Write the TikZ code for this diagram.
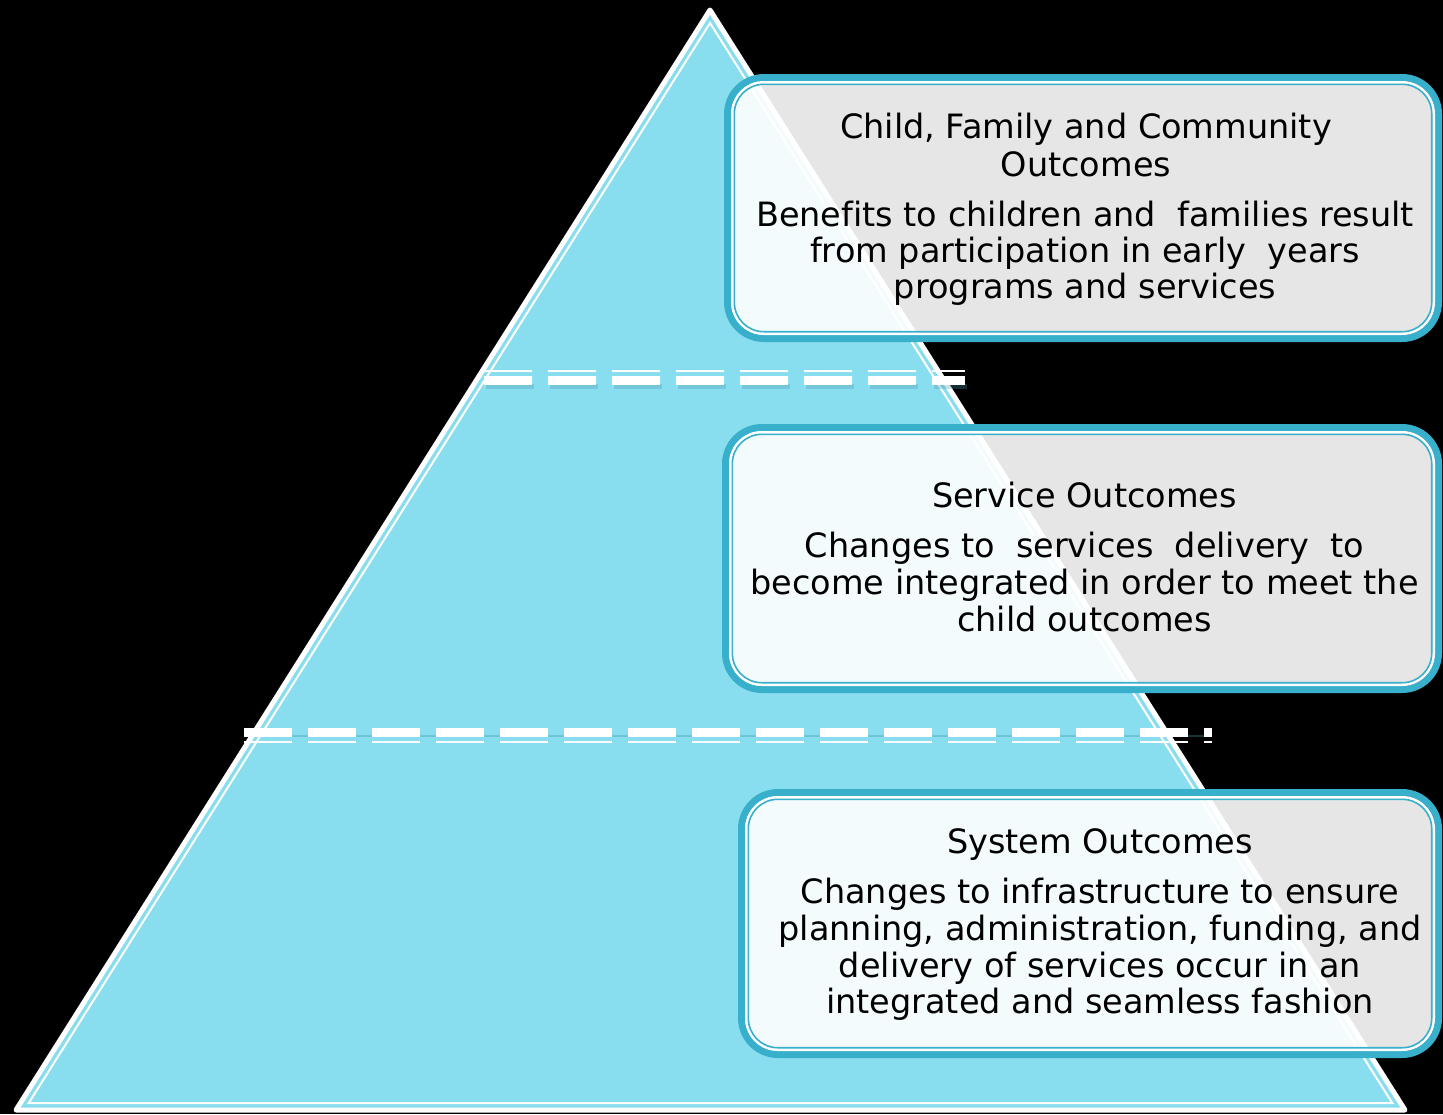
\documentclass[tikz,border=0pt]{standalone}
\usepackage{fontspec}
\setmainfont{DejaVu Sans}[Ligatures={NoCommon}]
\definecolor{triblue}{RGB}{136,221,238}
\definecolor{boxteal}{RGB}{56,176,204}
\definecolor{shadowc}{RGB}{70,150,170}
\tikzset{
  txt/.style={anchor=base, inner sep=0pt, font=\fontsize{33.5}{38}\selectfont, text=black},
  dashthick/.style={white, line width=9pt, dash pattern=on 48pt off 16pt},
  dashthin/.style={white, line width=2pt, dash pattern=on 48pt off 16pt},
  dashshadow/.style={shadowc, opacity=0.3, line width=5pt, dash pattern=on 48pt off 16pt},
}
\newcommand\outbox[5]{%
  \coordinate (#1nw) at (#2,#3);
  \coordinate (#1se) at (#4,#5);
  \fill[white, opacity=0.9, rounded corners=33pt] (#2+7,#3+7) rectangle (#4-7,#5-7);
  \draw[boxteal, line width=7pt, rounded corners=36.5pt] (#2+3.5,#3+3.5) rectangle (#4-3.5,#5-3.5);
  \draw[white, line width=2.5pt, rounded corners=31.75pt] (#2+8.25,#3+8.25) rectangle (#4-8.25,#5-8.25);
  \draw[boxteal, line width=1.6pt, rounded corners=29.5pt] (#2+10.3,#3+10.3) rectangle (#4-10.3,#5-10.3);
}
\begin{document}
\begin{tikzpicture}[x=1pt,y=-1pt]
\fill[black] (0,0) rectangle (1443,1114);
\useasboundingbox (0,0) rectangle (1443,1114);
% pyramid
\coordinate (apex) at (710,10);
\coordinate (bl) at (16,1110);
\coordinate (br) at (1405,1110);
\filldraw[fill=triblue, draw=white, line width=5pt, line join=round] (apex) -- (bl) -- (br) -- cycle;
\coordinate (iapex) at (710,23);
\coordinate (ibl) at (28.7,1103);
\coordinate (ibr) at (1392.3,1103);
\draw[white, line width=2pt, line join=miter] (iapex) -- (ibl) -- (ibr) -- cycle;
% dashed separators
\coordinate (d1a) at (484,380.5); \coordinate (d1b) at (965,380.5);
\coordinate (d1c) at (484,371); \coordinate (d1d) at (965,371);
\coordinate (d1e) at (486,386); \coordinate (d1f) at (967,386);
\draw[dashshadow] (d1e) -- (d1f);
\draw[dashthick] (d1a) -- (d1b);
\draw[dashthin] (d1c) -- (d1d);
\coordinate (d2s1) at (244,736); \coordinate (d2s2) at (1212,736);
\draw[shadowc, opacity=0.35, line width=1.5pt] (d2s1) -- (d2s2);
\coordinate (d2a) at (244,732); \coordinate (d2b) at (1212,732);
\coordinate (d2c) at (244,742); \coordinate (d2d) at (1212,742);
\draw[dashthick] (d2a) -- (d2b);
\draw[dashthin] (d2c) -- (d2d);
% boxes
\outbox{b1}{724}{74}{1442}{342}
\outbox{b2}{722}{424}{1442}{693}
\outbox{b3}{738}{789}{1442}{1058}
% texts box 1
\node[txt] (b1l1) at (1086,138) {Child, Family and Community};
\node[txt] (b1l2) at (1086,176) {Outcomes};
\node[txt] (b1l3) at (1085,226) {Benefits to children and\ \ families result};
\node[txt] (b1l4) at (1085,262.5) {from participation in early\ \ years};
\node[txt] (b1l5) at (1085,298.5) {programs and services};
% texts box 2
\node[txt] (b2l1) at (1084.5,507) {Service Outcomes};
\node[txt] (b2l2) at (1084.5,557) {Changes to\ \ services\ \ delivery\ \ to};
\node[txt] (b2l3) at (1084.5,594) {become integrated in order to meet the};
\node[txt] (b2l4) at (1084.5,631) {child outcomes};
% texts box 3
\node[txt] (b3l1) at (1100,853) {System Outcomes};
\node[txt] (b3l2) at (1100,903) {Changes to infrastructure to ensure};
\node[txt] (b3l3) at (1100,940.5) {planning, administration, funding, and};
\node[txt] (b3l4) at (1100,977) {delivery of services occur in an};
\node[txt] (b3l5) at (1100,1013.5) {integrated and seamless fashion};
\end{tikzpicture}
\end{document}
